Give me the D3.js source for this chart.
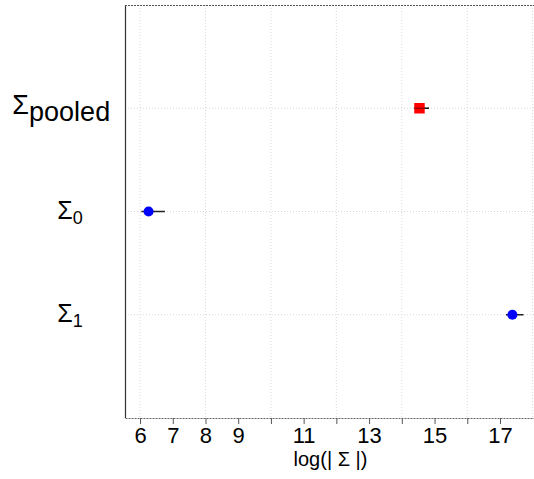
<!DOCTYPE html>
<html>
<head>
<meta charset="utf-8">
<script src="https://cdn.jsdelivr.net/npm/d3@7/dist/d3.min.js"></script>
<style>
  html, body { margin: 0; padding: 0; background: #fff; }
  svg { display: block; font-family: "Liberation Sans", Arial, Helvetica, sans-serif; }
</style>
</head>
<body>
<svg id="chart" width="534" height="479"></svg>
<script>
// ---- data ----
const categories = ["pooled", "0", "1"];          // subscripts of Σ
const estimates  = [14.54, 6.26, 17.38];
const lowerCI    = [14.38, 6.04, 17.18];
const upperCI    = [14.83, 6.76, 17.72];
const pointColors = ["#ff0000", "#0000ff", "#0000ff"];
const pointShapes = ["square", "circle", "circle"];
const xTicks      = [6, 7, 8, 9, 10, 11, 12, 13, 14, 15, 16, 17];
const xTickLabels = ["6", "7", "8", "9", "", "11", "", "13", "", "15", "", "17"];
const xGrid       = [6, 8, 10, 12, 14, 16, 18];
const xTitle      = "log(| Σ |)";

// ---- layout ----
const svg = d3.select("#chart");
const plot = { left: 125, right: 534, top: 5, bottom: 418 };

const x = d3.scaleLinear().domain([5.54, 18.04]).range([plot.left, plot.right]);
const y = d3.scalePoint().domain(categories).range([plot.top, plot.bottom]).padding(1);

// grid
const grid = svg.append("g");
grid.selectAll("line.v").data(xGrid).join("line")
  .attr("x1", d => x(d)).attr("x2", d => x(d))
  .attr("y1", plot.top).attr("y2", plot.bottom)
  .attr("stroke", "#d9d9d9").attr("stroke-width", 1).attr("stroke-dasharray", "1,2");
grid.selectAll("line.h").data(categories).join("line")
  .attr("x1", plot.left).attr("x2", plot.right)
  .attr("y1", d => y(d)).attr("y2", d => y(d))
  .attr("stroke", "#d9d9d9").attr("stroke-width", 1).attr("stroke-dasharray", "1,2");

// frame
svg.append("line").attr("x1", plot.left + 0.5).attr("x2", plot.left + 0.5)
  .attr("y1", plot.top).attr("y2", plot.bottom)
  .attr("stroke", "#333").attr("stroke-width", 1.2);
svg.append("line").attr("x1", plot.left).attr("x2", plot.right)
  .attr("y1", plot.top + 0.5).attr("y2", plot.top + 0.5)
  .attr("stroke", "#555").attr("stroke-width", 1).attr("stroke-dasharray", "2,1");

// x axis
const xAxis = d3.axisBottom(x).tickValues(xTicks)
  .tickFormat((d, i) => xTickLabels[i]).tickSizeInner(6).tickSizeOuter(0).tickPadding(3);
const gx = svg.append("g").attr("transform", `translate(0,${plot.bottom})`).call(xAxis);
gx.select(".domain").attr("stroke", "#666").attr("stroke-width", 1.2).attr("stroke-dasharray", "2,1");
gx.selectAll(".tick line").attr("stroke", "#555").attr("stroke-width", 1);
gx.selectAll(".tick text").attr("font-size", 22).attr("fill", "#000")
  .attr("font-family", "'Liberation Sans', Arial, sans-serif");

svg.append("text").attr("x", (plot.left + plot.right) / 2 + 1).attr("y", 466)
  .attr("text-anchor", "middle").attr("font-size", 20).attr("fill", "#000")
  .text(xTitle);

// y labels: Σ with subscript (word subscripts drawn larger than digit ones, as in the original)
categories.forEach(c => {
  const isWord = c.length > 1;
  const t = svg.append("text").attr("y", y(c) + (isWord ? 6 : 7)).attr("fill", "#000");
  t.append("tspan").attr("font-size", isWord ? 27 : 25).text("Σ");
  t.append("tspan").attr("font-size", isWord ? 27 : 18).attr("dy", isWord ? 7 : 5).text(c);
  const w = t.node().getBBox().width;
  t.attr("x", 73 - 0.62 * w);
});

// error bars + points
const rows = categories.map((c, i) => ({
  c, est: estimates[i], lo: lowerCI[i], hi: upperCI[i],
  col: pointColors[i], shape: pointShapes[i]
}));

const marks = svg.append("g");
marks.selectAll("line.ci").data(rows).join("line")
  .attr("x1", d => x(d.lo)).attr("x2", d => x(d.hi))
  .attr("y1", d => y(d.c)).attr("y2", d => y(d.c))
  .attr("stroke", "#222").attr("stroke-width", 1.5);

marks.selectAll("path.pt").data(rows).join("path")
  .attr("transform", d => `translate(${x(d.est)},${y(d.c)})`)
  .attr("d", d => d3.symbol().type(d.shape === "square" ? d3.symbolSquare : d3.symbolCircle)
    .size(d.shape === "square" ? 110 : 80)())
  .attr("fill", d => d.col);

// CI line shows faintly through the square
marks.selectAll("line.ci2").data(rows.filter(d => d.shape === "square")).join("line")
  .attr("x1", d => x(d.lo)).attr("x2", d => x(d.hi))
  .attr("y1", d => y(d.c)).attr("y2", d => y(d.c))
  .attr("stroke", "#000").attr("stroke-opacity", 0.35).attr("stroke-width", 1.5);
</script>
</body>
</html>
